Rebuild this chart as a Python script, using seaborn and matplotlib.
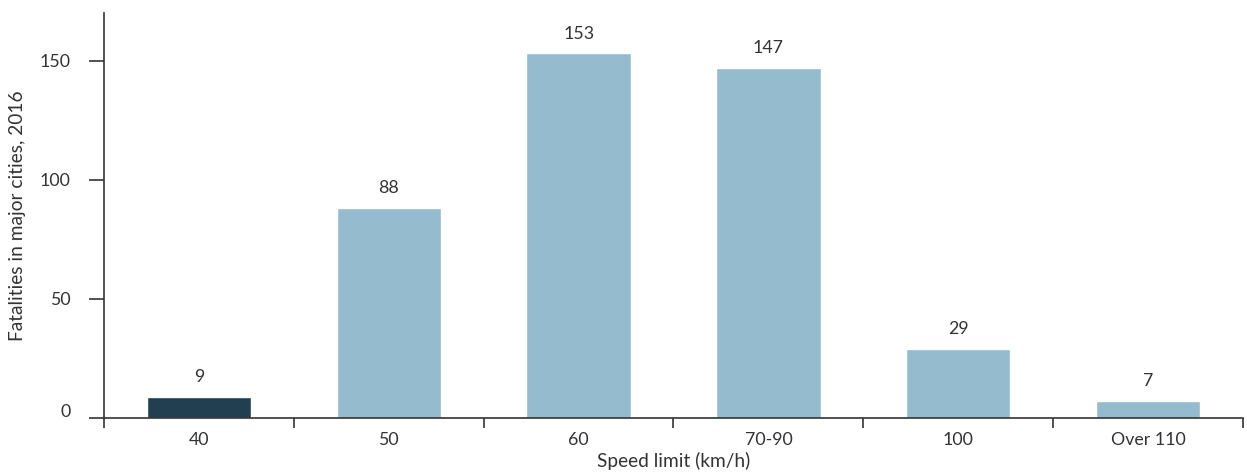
import matplotlib
matplotlib.use("Agg")
import matplotlib.pyplot as plt
import matplotlib.transforms as mtransforms
import seaborn as sns
import pandas as pd
import numpy as np

categories = ["40", "50", "60", "70-90", "100", "Over 110"]
fatalities = [9, 88, 153, 147, 29, 7]
highlight = ["yes", "no", "no", "no", "no", "no"]
yticks = [0, 50, 100, 150]

sns.set_theme(style="white")
plt.rcParams['font.family'] = ['Lato', 'DejaVu Sans']

TXT = "#333333"
FS = 12.8

df = pd.DataFrame({"cat": categories, "val": fatalities, "hl": highlight})

fig = plt.figure(figsize=(12.47, 4.73), dpi=100)
ax = fig.add_axes([104/1247, 1-418/473, (1243-104)/1247, (418-13)/473])

sns.barplot(data=df, x="cat", y="val", hue="hl", order=categories,
            palette={"yes": "#213f50", "no": "#95bbce"}, dodge=False,
            width=0.55, legend=False, ax=ax, saturation=1)

for i, v in enumerate(fatalities):
    ax.text(i, v + 5, str(v), ha="center", va="bottom", fontsize=FS, color=TXT)

ax.set_ylim(0, 170)
ax.set_xlim(-0.5, 5.5)
ax.set_yticks(yticks)
ax.set_yticklabels([str(t) for t in yticks], fontsize=FS, color=TXT)
ax.set_xticks(range(len(categories)))
ax.set_xticklabels(categories, fontsize=FS, color=TXT)
ax.set_xticks(np.arange(-0.5, 6, 1), minor=True)
ax.tick_params(axis="x", which="major", length=0, pad=10)
ax.tick_params(axis="x", which="minor", length=7, width=1.2, color=TXT, direction="out", bottom=True)
ax.tick_params(axis="y", which="major", length=11, width=1.2, color=TXT, direction="out", left=True, pad=13)

# the zero label sits slightly above its tick in the reference
zero_lbl = ax.get_yticklabels()[0]
zero_lbl.set_transform(zero_lbl.get_transform() + mtransforms.ScaledTranslation(0, 8/100, fig.dpi_scale_trans))

for s in ["top", "right"]:
    ax.spines[s].set_visible(False)
for s in ["left", "bottom"]:
    ax.spines[s].set_color(TXT)
    ax.spines[s].set_linewidth(1.2)

ax.set_xlabel("Speed limit (km/h)", fontsize=13.8, color=TXT, labelpad=3)
ax.set_ylabel("Fatalities in major cities, 2016", fontsize=13.8, color=TXT, labelpad=10)

fig.savefig("out.png", dpi=100)
